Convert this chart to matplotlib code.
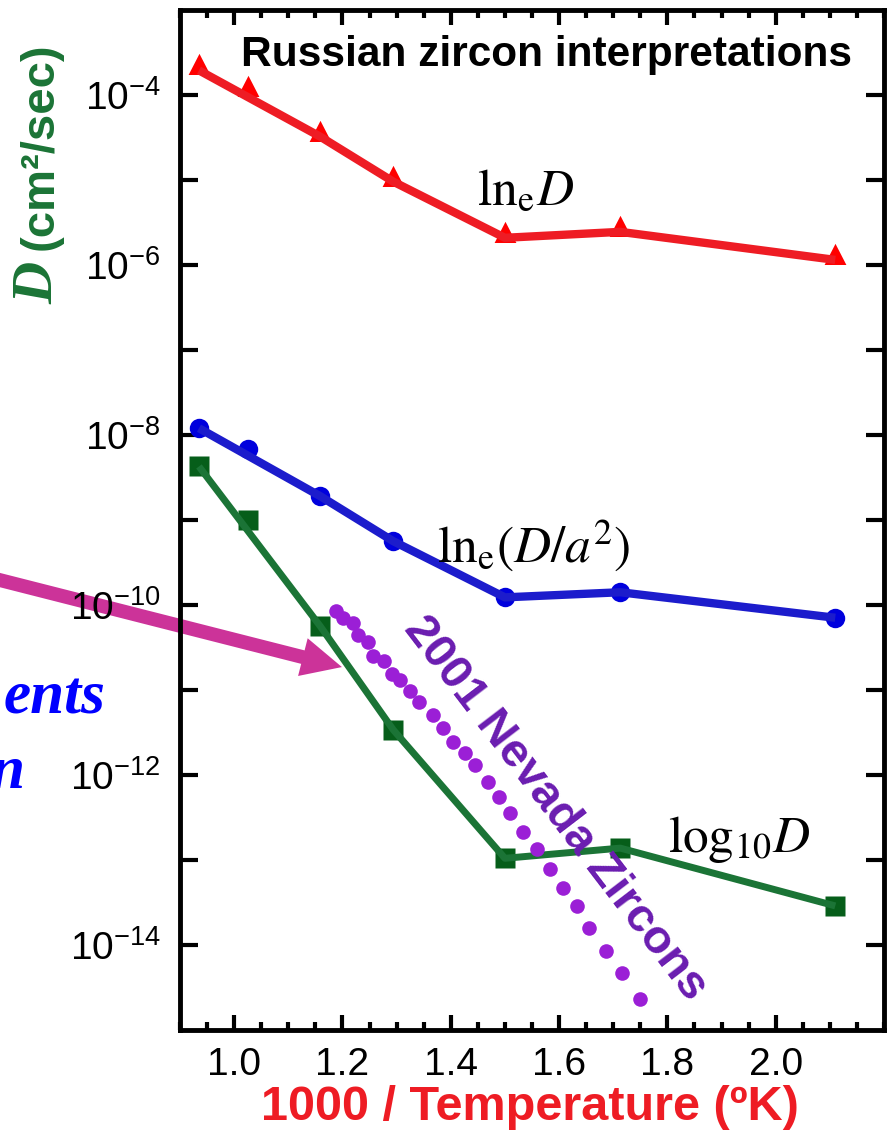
import numpy as np
import matplotlib
matplotlib.use('Agg')
import matplotlib.pyplot as plt
from matplotlib.path import Path
from matplotlib.ticker import FixedLocator, MultipleLocator, NullLocator, FuncFormatter

plt.rcParams['font.family'] = ['Liberation Sans', 'DejaVu Sans']
plt.rcParams['mathtext.fontset'] = 'custom'
plt.rcParams['mathtext.rm'] = 'Liberation Sans'
plt.rcParams['mathtext.it'] = 'Liberation Sans:italic'
plt.rcParams['mathtext.bf'] = 'Liberation Sans:bold'

# 1000 / T for the Russian zircon samples
inv_temp = [0.935, 1.026, 1.159, 1.294, 1.500, 1.713, 2.110]

# log10 of D for the three interpretations
log_d_lne = [-3.71, -3.96, -4.49, -5.02, -5.68, -5.61, -5.94]
log_d_lne_a2 = [-7.92, -8.17, -8.72, -9.25, -9.91, -9.85, -10.15]
log_d_log10 = [-8.37, -9.00, -10.25, -11.47, -12.98, -12.86, -13.54]

# the line skips the second sample
line_idx = [0, 2, 3, 4, 5, 6]

# 2001 Nevada zircons (dotted curve)
nevada_x = [1.188, 1.201, 1.220, 1.229, 1.248, 1.257, 1.277, 1.292, 1.307, 1.325,
            1.342, 1.368, 1.386, 1.404, 1.427, 1.445, 1.469, 1.489, 1.510, 1.534,
            1.560, 1.584, 1.608, 1.633, 1.656, 1.687, 1.717, 1.750]
nevada_log_d = [-10.07, -10.15, -10.21, -10.35, -10.44, -10.60, -10.66, -10.81, -10.88, -11.01,
                -11.14, -11.29, -11.45, -11.61, -11.74, -11.88, -12.08, -12.26, -12.45, -12.67,
                -12.87, -13.11, -13.33, -13.54, -13.80, -14.07, -14.33, -14.64]

y_tick_exp = list(range(-14, -3))
x_tick_labels = [1.0, 1.2, 1.4, 1.6, 1.8, 2.0]

fig = plt.figure(figsize=(8.88, 11.36), dpi=100)
ax = fig.add_axes([0.2027, 0.0933, 0.7928, 0.8979])
ax.set_yscale('log')
ax.set_xlim(0.9, 2.2)
ax.set_ylim(1e-15, 1e-3)

# triangle marker with its base close to the anchor point
tri = Path([(-0.85, -0.35), (0.85, -0.35), (0, 1.3), (-0.85, -0.35)],
           [Path.MOVETO, Path.LINETO, Path.LINETO, Path.CLOSEPOLY])

x = np.array(inv_temp)
series = [
    (log_d_lne, '#ee1c24', '#ff0000', tri, 24, 6.0),
    (log_d_lne_a2, '#1c1ccc', '#0000dd', 'o', 14, 6.0),
    (log_d_log10, '#1b7436', '#065e1a', 's', 14, 5.0),
]
for vals, lc, mc, mk, ms, lw in series:
    d = 10.0 ** np.array(vals)
    ax.plot(x, d, ls='none', marker=mk, ms=ms, color=mc, mec='none', zorder=2)
    ax.plot(x[line_idx], d[line_idx], '-', color=lc, lw=lw, zorder=3,
            solid_capstyle='butt')

ax.plot(nevada_x, 10.0 ** np.array(nevada_log_d), ls='none', marker='o', ms=10.5,
        color='#9b1fd6', mec='none', zorder=4)

# annotations
ax.text(1.449, 10 ** -5.294, r'$\mathrm{ln}_{\mathrm{e}}D$', fontsize=37,
        math_fontfamily='stix', ha='left', va='baseline', zorder=5)
ax.text(1.375, 10 ** -9.506, r'$\mathrm{ln}_{\mathrm{e}}(D/a^2)$', fontsize=37,
        math_fontfamily='stix', ha='left', va='baseline', zorder=5)
ax.text(1.801, 10 ** -12.906, r'$\mathrm{log}_{10}D$', fontsize=37,
        math_fontfamily='stix', ha='left', va='baseline', zorder=5)
ax.text(1.593, 10 ** -12.39, '2001 Nevada Zircons', fontsize=34, weight='bold',
        color='#6a1cb0', rotation=-52.6, rotation_mode='anchor',
        ha='center', va='center', zorder=6)
ax.text(0.52, 0.956, 'Russian zircon interpretations', transform=ax.transAxes,
        fontsize=30.5, weight='bold', ha='center', va='center', zorder=6)

ax.annotate('', xy=(1.199, 10 ** -10.73), xycoords='data',
            xytext=(-20, 561), textcoords='figure pixels',
            arrowprops=dict(arrowstyle='simple,head_length=1.45,head_width=1.4,tail_width=0.5',
                            mutation_scale=20, color='#cc3399', lw=0,
                            shrinkA=0, shrinkB=0),
            annotation_clip=False, zorder=1)

# cut-off blue words on the left
fig.text(105 / 888, 1 - 713 / 1136, 'ents', ha='right', va='baseline', fontsize=44,
         family='Liberation Serif', style='italic', weight='bold', color='#0000ff')
fig.text(25 / 888, 1 - 788 / 1136, 'n', ha='right', va='baseline', fontsize=44,
         family='Liberation Serif', style='italic', weight='bold', color='#0000ff')

# ticks
ax.xaxis.set_major_locator(FixedLocator(x_tick_labels))
ax.xaxis.set_minor_locator(MultipleLocator(0.05))
ax.xaxis.set_major_formatter(FuncFormatter(lambda v, p: '%.1f' % v))
ax.yaxis.set_major_locator(FixedLocator([10.0 ** e for e in y_tick_exp]))
ax.yaxis.set_minor_locator(NullLocator())
ax.yaxis.set_major_formatter(FuncFormatter(
    lambda v, p: r'$10^{%d}$' % round(np.log10(v)) if round(np.log10(v)) % 2 == 0 else ''))

ax.tick_params(axis='both', which='both', direction='in', top=True, right=True,
               width=3, labelsize=28)
ax.tick_params(axis='x', which='major', length=11, pad=12)
ax.tick_params(axis='x', which='minor', length=6)
ax.tick_params(axis='y', which='major', length=13, pad=14)
for s in ax.spines.values():
    s.set_linewidth(3.5)

# axis labels
fig.text(0.597, 1 - 1107 / 1136, '1000 / Temperature (ºK)',
         fontsize=35, weight='bold', color='#ee1c24', ha='center', va='center')
fig.text(41 / 888, 1 - 250 / 1136, '(cm²/sec)', rotation=90, fontsize=34,
         weight='bold', color='#1b7436', ha='center', va='bottom')
fig.text(38 / 888, 1 - 262 / 1136, 'D', rotation=90, fontsize=42,
         family='Liberation Serif', style='italic', weight='bold',
         color='#1b7436', ha='center', va='top')

fig.savefig('out.png', dpi=100)
